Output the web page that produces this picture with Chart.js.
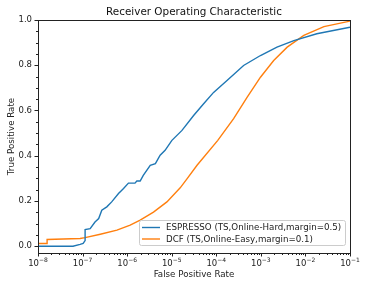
<!DOCTYPE html>
<html>
<head>
<meta charset="utf-8">
<script src="https://cdn.jsdelivr.net/npm/chart.js@4/dist/chart.umd.min.js"></script>
<style>
  html, body { margin: 0; padding: 0; background: #fff; }
  #wrap { width: 366px; height: 284px; }
</style>
</head>
<body>
<div id="wrap"><canvas id="roc" width="366" height="284"></canvas></div>
<script>
// ROC data
const espressoFpr = [1e-8, 6.1e-8, 8.8e-8, 1.03e-7, 1.14e-7, 1.14e-7, 1.48e-7, 1.9e-7, 2.3e-7, 2.7e-7,
    3.5e-7, 4.5e-7, 6.4e-7, 8.3e-7, 1.07e-6, 1.5e-6, 1.65e-6, 1.96e-6, 2.3e-6, 3.3e-6,
    4.3e-6, 5.5e-6, 7.1e-6, 1.01e-5, 1.7e-5, 3.1e-5, 5.2e-5, 8.7e-5, 1.74e-4, 4.1e-4,
    9.8e-4, 2.3e-3, 5.5e-3, 1.8e-2, 1e-1];
const espressoTpr = [0.0, 0.0, 0.008, 0.012, 0.025, 0.074, 0.078, 0.107, 0.122, 0.159,
    0.174, 0.196, 0.233, 0.255, 0.279, 0.279, 0.288, 0.288, 0.313, 0.358,
    0.365, 0.402, 0.424, 0.468, 0.512, 0.578, 0.630, 0.680, 0.733, 0.799,
    0.843, 0.880, 0.909, 0.939, 0.968];

const dcfFpr = [1e-8, 1.6e-8, 1.6e-8, 8.8e-8, 1.14e-7, 2.5e-7, 5.9e-7, 1.17e-6, 1.96e-6, 3.9e-6,
    7.8e-6, 1.55e-5, 2.2e-5, 3.7e-5, 1.08e-4, 2.45e-4, 4.9e-4, 9.8e-4, 1.94e-3, 3.9e-3,
    9.2e-3, 2.6e-2, 1e-1];
const dcfTpr = [0.012, 0.012, 0.030, 0.034, 0.038, 0.053, 0.071, 0.093, 0.115, 0.151,
    0.196, 0.258, 0.298, 0.358, 0.468, 0.564, 0.658, 0.747, 0.821, 0.880,
    0.932, 0.971, 0.995];

const seriesLabels = ['ESPRESSO (TS,Online-Hard,margin=0.5)', 'DCF (TS,Online-Easy,margin=0.1)'];
const xDecades = [-8, -7, -6, -5, -4, -3, -2, -1];
const yTicks = [0.0, 0.2, 0.4, 0.6, 0.8, 1.0];
const titleText = 'Receiver Operating Characteristic';

const FONT = "'DejaVu Sans', sans-serif";

function toPoints(xs, ys) {
    return xs.map((x, i) => ({ x: x, y: ys[i] }));
}

// frame, tick marks, 10^n labels, title and legend drawn the matplotlib way
const decorPlugin = {
    id: 'decor',
    afterDraw(chart) {
        const ctx = chart.ctx;
        const a = chart.chartArea;
        const xs = chart.scales.x;
        const ys = chart.scales.y;
        ctx.save();
        ctx.strokeStyle = '#222';
        ctx.lineWidth = 1;

        // ticks
        ctx.beginPath();
        xDecades.forEach(d => {
            const px = Math.round(xs.getPixelForValue(Math.pow(10, d))) + 0.5;
            ctx.moveTo(px, a.bottom); ctx.lineTo(px, a.bottom + 3.5);
            if (d < -1) {
                for (let k = 2; k <= 9; k++) {
                    const mx = Math.round(xs.getPixelForValue(k * Math.pow(10, d))) + 0.5;
                    ctx.moveTo(mx, a.bottom); ctx.lineTo(mx, a.bottom + 2);
                }
            }
        });
        yTicks.forEach(v => {
            const py = Math.round(ys.getPixelForValue(v)) + 0.5;
            ctx.moveTo(a.left, py); ctx.lineTo(a.left - 3.5, py);
        });
        for (let i = 0; i <= 20; i++) {
            const py = Math.round(ys.getPixelForValue(i * 0.05)) + 0.5;
            ctx.moveTo(a.left, py); ctx.lineTo(a.left - 2, py);
        }
        ctx.stroke();

        // frame
        ctx.strokeRect(Math.round(a.left) + 0.5, Math.round(a.top) + 0.5,
            Math.round(a.right - a.left), Math.round(a.bottom - a.top));

        // x tick labels: 10 with a raised exponent
        ctx.fillStyle = '#222';
        ctx.textBaseline = 'alphabetic';
        ctx.textAlign = 'left';
        xDecades.forEach(d => {
            const px = xs.getPixelForValue(Math.pow(10, d));
            const base = '10';
            const exp = '\u2212' + Math.abs(d);
            ctx.font = '8.5px ' + FONT;
            const wb = ctx.measureText(base).width;
            ctx.font = '6px ' + FONT;
            const we = ctx.measureText(exp).width;
            const x0 = px - (wb + we) / 2;
            ctx.font = '8.5px ' + FONT;
            ctx.fillText(base, x0, 265.5);
            ctx.font = '6px ' + FONT;
            ctx.fillText(exp, x0 + wb, 262);
        });

        // title
        ctx.fillStyle = '#111';
        ctx.font = '10.4px ' + FONT;
        ctx.textAlign = 'center';
        ctx.textBaseline = 'middle';
        ctx.fillText(titleText, (a.left + a.right) / 2, 12);

        // legend in the lower right
        const bx = 139, by = 220, bw = 206, bh = 25;
        ctx.fillStyle = 'rgba(255,255,255,0.85)';
        ctx.strokeStyle = '#ccc';
        ctx.lineWidth = 1;
        ctx.beginPath();
        ctx.roundRect(bx + 0.5, by + 0.5, bw, bh, 2);
        ctx.fill();
        ctx.stroke();
        ctx.font = '8.7px ' + FONT;
        ctx.textAlign = 'left';
        chart.data.datasets.forEach((ds, i) => {
            const cy = by + 7.5 + i * 11.5;
            ctx.strokeStyle = ds.borderColor;
            ctx.lineWidth = 1.4;
            ctx.beginPath();
            ctx.moveTo(bx + 3, cy); ctx.lineTo(bx + 21, cy);
            ctx.stroke();
            ctx.fillStyle = '#222';
            ctx.fillText(ds.label, bx + 27, cy + 0.5);
        });
        ctx.restore();
    }
};

const ctx = document.getElementById('roc').getContext('2d');
const chart = new Chart(ctx, {
    type: 'line',
    data: {
        datasets: [{
            label: seriesLabels[0],
            data: toPoints(espressoFpr, espressoTpr),
            borderColor: '#1f77b4',
            borderWidth: 1.4,
            pointRadius: 0,
            tension: 0,
            fill: false
        }, {
            label: seriesLabels[1],
            data: toPoints(dcfFpr, dcfTpr),
            borderColor: '#ff7f0e',
            borderWidth: 1.4,
            pointRadius: 0,
            tension: 0,
            fill: false
        }]
    },
    options: {
        responsive: false,
        animation: false,
        devicePixelRatio: 1,
        layout: { padding: { top: 20, right: 16, left: 0, bottom: 0 } },
        plugins: {
            legend: { display: false },
            tooltip: { enabled: false }
        },
        scales: {
            x: {
                type: 'logarithmic',
                min: 1e-8,
                max: 1e-1,
                afterBuildTicks: s => { s.ticks = xDecades.map(d => ({ value: Math.pow(10, d) })); },
                afterFit: s => { s.height = 31; },
                grid: { display: false, drawTicks: false },
                border: { display: false },
                ticks: { display: false },
                title: {
                    display: true,
                    text: 'False Positive Rate',
                    color: '#222',
                    font: { family: FONT, size: 8.7 },
                    padding: { top: 0, bottom: 4 }
                }
            },
            y: {
                min: -0.03,
                max: 1.0,
                afterBuildTicks: s => { s.ticks = yTicks.map(v => ({ value: v })); },
                afterFit: s => { s.width = 38; },
                grid: { display: false, drawTicks: false },
                border: { display: false },
                ticks: {
                    padding: 6,
                    color: '#222',
                    font: { family: FONT, size: 8.5 },
                    callback: v => v.toFixed(1)
                },
                title: {
                    display: true,
                    text: 'True Positive Rate',
                    color: '#222',
                    font: { family: FONT, size: 8.7 },
                    padding: { top: 7, bottom: 0 }
                }
            }
        }
    },
    plugins: [decorPlugin]
});
</script>
</body>
</html>
